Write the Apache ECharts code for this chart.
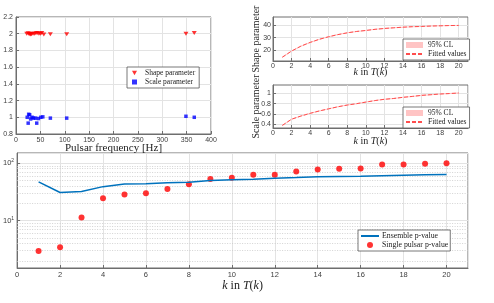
<!DOCTYPE html>
<html><head><meta charset="utf-8">
<script src="https://cdn.jsdelivr.net/npm/echarts@6/dist/echarts.min.js"></script>
<style>html,body{margin:0;padding:0;background:#fff}#c{width:494px;height:303px}</style>
</head><body><div id="c"></div>
<script>
// ---- top-left: parameters vs pulsar frequency ----
const freqShape = [22, 25, 27, 29, 30, 32, 35, 38, 41, 44, 47, 50, 53, 57, 70.5, 104, 348.6, 365.7];
const shapeVals = [2.0, 2.005, 1.995, 2.0, 1.99, 1.995, 2.0, 2.0, 2.005, 2.01, 2.0, 2.0, 2.01, 1.99, 1.995, 1.995, 2.0, 2.01];
const freqScale = [23, 25, 26, 28, 30, 33, 36, 40, 42.5, 46, 51, 55, 70.5, 104, 348.6, 365.7];
const scaleVals = [1.0, 0.93, 1.036, 1.03, 0.98, 1.0, 0.99, 0.99, 0.93, 0.985, 1.0, 1.005, 0.99, 0.99, 1.012, 1.0];
// ---- k values ----
const kVals = [1,2,3,4,5,6,7,8,9,10,11,12,13,14,15,16,17,18,19,20];
// ---- shape fit (top-right) ----
const shapeFit = [14.5,19.4,23.3,26.3,28.8,30.8,32.5,33.9,35.0,35.8,36.7,37.4,37.9,38.4,38.8,39.0,39.3,39.5,39.7,39.8];
const shapeLo  = [14.1,19.0,22.9,25.9,28.4,30.4,32.1,33.5,34.6,35.4,36.3,37.0,37.5,38.0,38.4,38.6,38.9,39.1,39.3,39.4];
const shapeHi  = [14.9,19.8,23.7,26.7,29.2,31.2,32.9,34.3,35.4,36.2,37.1,37.8,38.3,38.8,39.2,39.4,39.7,39.9,40.1,40.2];
// ---- scale fit (middle-right) ----
const scaleFit = [0.38,0.50,0.56,0.613,0.66,0.70,0.74,0.773,0.80,0.83,0.86,0.884,0.90,0.922,0.94,0.96,0.973,0.986,0.995,1.005];
const scaleLo  = [0.37,0.49,0.55,0.603,0.65,0.69,0.73,0.763,0.79,0.82,0.85,0.874,0.89,0.912,0.93,0.95,0.963,0.976,0.985,0.995];
const scaleHi  = [0.39,0.51,0.57,0.623,0.67,0.71,0.75,0.783,0.81,0.84,0.87,0.894,0.91,0.932,0.95,0.97,0.983,0.996,1.005,1.015];
// ---- bottom: p-values ----
const ensemble = [47.2,30.8,32,39,43.5,44,45.4,46.7,49.8,51.2,52.5,54.8,56,57.7,58.5,59.3,60.5,61.8,62.5,63.2];
const single   = [2.97,3.44,11.3,24.5,28.4,30,35.6,43,53,55.5,62.5,62.5,71.5,77.4,79.6,80.7,94.6,94.6,97.3,100];
const logMinor = [2,3,4,5,6,7,8,9,20,30,40,50,60,70,80,90];
const shapeTicks = [20,30,40];
const scaleTicks = [0.4,0.6,0.8,1];

const pairs = (xs, ys) => xs.map((x, i) => [x, ys[i]]);
const bandItem = (lo, hi) => (params, api) => {
  const up = kVals.map((k, i) => api.coord([k, hi[i]]));
  const dn = kVals.map((k, i) => api.coord([k, lo[i]])).reverse();
  return {type: 'polygon', shape: {points: up.concat(dn)}, style: {fill: '#ffc4c4'}};
};

const SERIF = '"Liberation Serif","DejaVu Serif",serif';
const SANS = '"Liberation Sans",Arial,sans-serif';
const AX = '#6e6e6e';
const tickLab = {fontSize: 7, color: '#404040', fontFamily: SANS, margin: 3};
const gridLine = {show: true, lineStyle: {color: '#e3e3e3', width: 1}};
const axLine = {show: true, lineStyle: {color: AX, width: 1}};
const axTick = {show: true, inside: true, length: 3, lineStyle: {color: AX}};
const kName = '{i|k} in {i|T}({i|k})';
const kRich = (fs) => ({i: {fontStyle: 'italic', fontFamily: SERIF, fontSize: fs, color: '#222'}});

const chart = echarts.init(document.getElementById('c'), null, {renderer: 'canvas'});
const RED = '#ff0000', BLUE = '#0000ff', MBLUE = '#0072bd';
const TRI = 'path://M0,0 L10,0 L5,9 Z';
const smallLegend = (top, data) => ({left: 403, top: top, orient: 'vertical', padding: [2, 3, 2, 2], itemGap: 1, itemWidth: 17, itemHeight: 6,
  backgroundColor: '#fff', borderColor: '#555', borderWidth: 0.8,
  textStyle: {fontFamily: SERIF, fontSize: 7.5, color: '#222'}, data: data});

chart.setOption({
  animation: false,
  backgroundColor: '#fff',
  textStyle: {fontFamily: SANS},
  grid: [
    {left: 16, top: 17, width: 195, height: 117, show: true, borderColor: AX, borderWidth: 1, backgroundColor: '#fff'},
    {left: 273, top: 17, width: 195, height: 44, show: true, borderColor: AX, borderWidth: 1, backgroundColor: '#fff'},
    {left: 273, top: 85, width: 195, height: 43, show: true, borderColor: AX, borderWidth: 1, backgroundColor: '#fff'},
    {left: 16, top: 153, width: 452, height: 115, show: true, borderColor: AX, borderWidth: 1, backgroundColor: '#fff'}
  ],
  xAxis: [
    {gridIndex: 0, type: 'value', min: 0, max: 400, interval: 50, axisLine: axLine, axisTick: axTick, axisLabel: tickLab, splitLine: gridLine,
     name: 'Pulsar frequency [Hz]', nameLocation: 'middle', nameMoveOverlap: false, nameGap: 9,
     nameTextStyle: {fontFamily: SERIF, fontSize: 11, color: '#222', verticalAlign: 'top'}},
    {gridIndex: 1, type: 'value', min: 0, max: 21, interval: 2, axisLine: axLine, axisTick: axTick, axisLabel: Object.assign({}, tickLab, {margin: 2, showMaxLabel: false}), splitLine: gridLine,
     name: kName, nameLocation: 'middle', nameMoveOverlap: false, nameGap: 6,
     nameTextStyle: {fontFamily: SERIF, fontSize: 10, color: '#222', verticalAlign: 'top', rich: kRich(10)}},
    {gridIndex: 2, type: 'value', min: 0, max: 21, interval: 2, axisLine: axLine, axisTick: axTick, axisLabel: Object.assign({}, tickLab, {margin: 2, showMaxLabel: false}), splitLine: gridLine,
     name: kName, nameLocation: 'middle', nameMoveOverlap: false, nameGap: 8.5,
     nameTextStyle: {fontFamily: SERIF, fontSize: 10, color: '#222', verticalAlign: 'top', rich: kRich(10)}},
    {gridIndex: 3, type: 'value', min: 0, max: 21, interval: 2, axisLine: axLine, axisTick: axTick, axisLabel: Object.assign({}, tickLab, {showMaxLabel: false, fontSize: 7.5}), splitLine: gridLine,
     name: kName, nameLocation: 'middle', nameMoveOverlap: false, nameGap: 12,
     nameTextStyle: {fontFamily: SERIF, fontSize: 12, color: '#222', verticalAlign: 'top', rich: kRich(12)}}
  ],
  yAxis: [
    {gridIndex: 0, type: 'value', min: 0.8, max: 2.2, interval: 0.2, axisLine: axLine, axisTick: axTick, axisLabel: tickLab, splitLine: gridLine},
    {gridIndex: 1, type: 'value', min: 11.5, max: 46.5, axisLine: axLine,
     axisTick: Object.assign({}, axTick, {customValues: shapeTicks}), axisLabel: Object.assign({}, tickLab, {margin: 2, customValues: shapeTicks}),
     splitLine: gridLine,
     name: 'Shape parameter', nameLocation: 'middle', nameRotate: 90, nameMoveOverlap: false, nameGap: 12,
     nameTextStyle: {fontFamily: SERIF, fontSize: 10, color: '#222'}},
    {gridIndex: 2, type: 'value', min: 0.33, max: 1.16, axisLine: axLine,
     axisTick: Object.assign({}, axTick, {customValues: scaleTicks}), axisLabel: Object.assign({}, tickLab, {margin: 2, customValues: scaleTicks}),
     splitLine: gridLine,
     name: 'Scale parameter', nameLocation: 'middle', nameRotate: 90, nameMoveOverlap: false, nameGap: 12,
     nameTextStyle: {fontFamily: SERIF, fontSize: 10, color: '#222'}},
    {gridIndex: 3, type: 'log', logBase: 10, min: 1.5, max: 150, axisLine: axLine, axisTick: axTick,
     axisLabel: Object.assign({}, tickLab, {fontSize: 7.5, showMinLabel: false, showMaxLabel: false,
       formatter: (v) => '10{s|' + Math.round(Math.log10(v)) + '}',
       rich: {s: {fontSize: 5, verticalAlign: 'top', color: '#404040', padding: [0, 0, 5, 0]}}}),
     splitLine: gridLine}
  ],
  legend: [
    {left: 127, top: 67, orient: 'vertical', padding: [2, 4, 2, 5], itemGap: 1, itemWidth: 5, itemHeight: 5,
     backgroundColor: '#fff', borderColor: '#555', borderWidth: 0.8, borderRadius: 0,
     textStyle: {fontFamily: SERIF, fontSize: 7.5, color: '#222', padding: [0, 0, 0, 3]},
     data: [{name: 'Shape parameter', icon: TRI}, {name: 'Scale parameter', icon: 'rect'}]},
    smallLegend(39, [{name: '95% CL', icon: 'rect', itemStyle: {color: '#ffc4c4'}}, {name: 'Fitted values', itemStyle: {opacity: 0}}]),
    smallLegend(107, [{name: '95% CL', icon: 'rect', itemStyle: {color: '#ffc4c4'}}, {name: 'Fitted values', itemStyle: {opacity: 0}}]),
    {left: 358, top: 230, orient: 'vertical', padding: [2, 2, 2, 2], itemGap: 1, itemWidth: 18, itemHeight: 6,
     backgroundColor: '#fff', borderColor: '#555', borderWidth: 0.8,
     textStyle: {fontFamily: SERIF, fontSize: 7.8, color: '#222', padding: [0, 0, 0, -2]},
     data: [{name: 'Ensemble p-value', itemStyle: {opacity: 0}}, {name: 'Single pulsar p-value', icon: 'circle'}]}
  ],
  series: [
    {name: 'Shape parameter', type: 'scatter', xAxisIndex: 0, yAxisIndex: 0, symbol: TRI, symbolSize: [5, 4],
     itemStyle: {color: RED}, data: pairs(freqShape, shapeVals)},
    {name: 'Scale parameter', type: 'scatter', xAxisIndex: 0, yAxisIndex: 0, symbol: 'rect', symbolSize: 3.5,
     itemStyle: {color: BLUE}, data: pairs(freqScale, scaleVals)},

    {name: '95% CL', type: 'custom', xAxisIndex: 1, yAxisIndex: 1, itemStyle: {color: '#ffc4c4'},
     renderItem: bandItem(shapeLo, shapeHi), data: [[kVals[0], shapeFit[0]]]},
    {name: 'Fitted values', type: 'line', xAxisIndex: 1, yAxisIndex: 1, symbol: 'none',
     itemStyle: {color: '#ff4d4d'}, lineStyle: {color: '#ff4d4d', width: 1, type: [4, 2]}, data: pairs(kVals, shapeFit)},

    {name: '95% CL', type: 'custom', xAxisIndex: 2, yAxisIndex: 2, itemStyle: {color: '#ffc4c4'},
     renderItem: bandItem(scaleLo, scaleHi), data: [[kVals[0], scaleFit[0]]]},
    {name: 'Fitted values', type: 'line', xAxisIndex: 2, yAxisIndex: 2, symbol: 'none',
     itemStyle: {color: '#ff4d4d'}, lineStyle: {color: '#ff4d4d', width: 1, type: [4, 2]}, data: pairs(kVals, scaleFit)},

    {name: 'Ensemble p-value', type: 'line', xAxisIndex: 3, yAxisIndex: 3, symbol: 'none', z: 3,
     itemStyle: {color: MBLUE}, lineStyle: {color: MBLUE, width: 1.5}, data: pairs(kVals, ensemble),
     markLine: {silent: true, symbol: 'none', label: {show: false}, animation: false, z: 1,
       lineStyle: {color: '#c8c8c8', type: [1, 1.5], width: 0.8}, data: logMinor.map(v => ({yAxis: v}))}},
    {name: 'Single pulsar p-value', type: 'scatter', xAxisIndex: 3, yAxisIndex: 3, symbol: 'circle', symbolSize: 6,
     itemStyle: {color: RED}, data: pairs(kVals, single)}
  ]
});
</script></body></html>
